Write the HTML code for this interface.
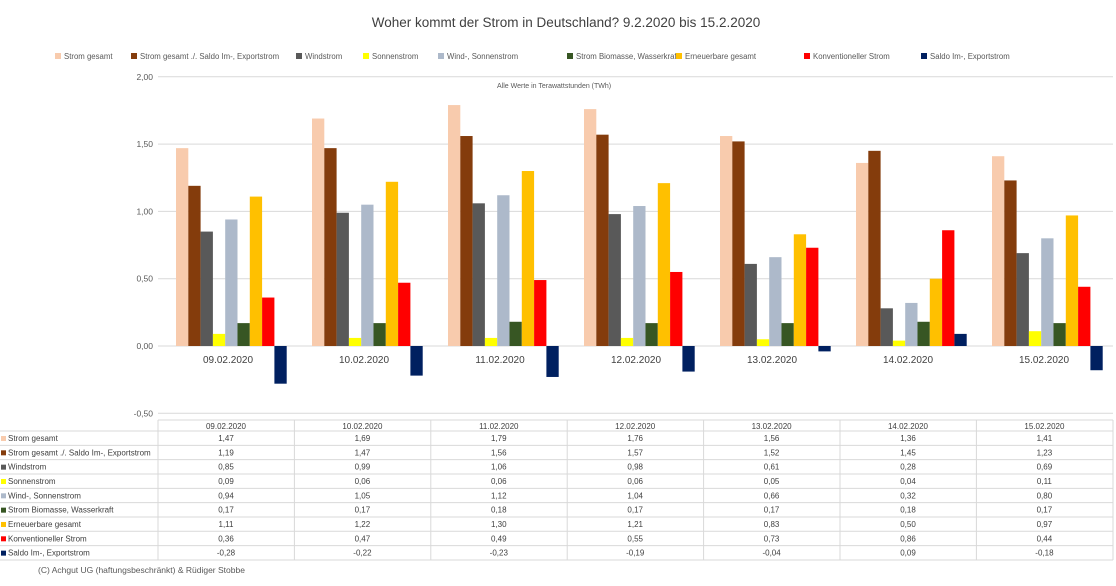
<!DOCTYPE html>
<html><head><meta charset="utf-8"><style>
body{margin:0;background:#fff;}
svg text{font-family:"Liberation Sans",sans-serif;}
</style></head><body>
<svg id="s" width="1116" height="581" xmlns="http://www.w3.org/2000/svg"></svg>
<script>
const s=document.getElementById('s');
let h='';
const cols=['#F8CBAD','#843C0C','#595959','#FFFF00','#ADB9CA','#375623','#FFC000','#FF0000','#002060'];
const names=['Strom gesamt','Strom gesamt ./. Saldo Im-, Exportstrom','Windstrom','Sonnenstrom','Wind-, Sonnenstrom','Strom Biomasse, Wasserkraft','Erneuerbare gesamt','Konventioneller Strom','Saldo Im-, Exportstrom'];
const dates=['09.02.2020','10.02.2020','11.02.2020','12.02.2020','13.02.2020','14.02.2020','15.02.2020'];
const data=[[1.47,1.69,1.79,1.76,1.56,1.36,1.41],[1.19,1.47,1.56,1.57,1.52,1.45,1.23],[0.85,0.99,1.06,0.98,0.61,0.28,0.69],[0.09,0.06,0.06,0.06,0.05,0.04,0.11],[0.94,1.05,1.12,1.04,0.66,0.32,0.80],[0.17,0.17,0.18,0.17,0.17,0.18,0.17],[1.11,1.22,1.30,1.21,0.83,0.50,0.97],[0.36,0.47,0.49,0.55,0.73,0.86,0.44],[-0.28,-0.22,-0.23,-0.19,-0.04,0.09,-0.18]];
const f=v=>v.toFixed(2).replace('.',',');
h+=`<text x="566" y="27" font-size="13.5" text-anchor="middle" fill="#404040">Woher kommt der Strom in Deutschland? 9.2.2020 bis 15.2.2020</text>`;
const lx=[55,131,296,363,438,567,676,804,921];
names.forEach((n,i)=>{h+=`<rect x="${lx[i]}" y="53" width="6" height="6" fill="${cols[i]}"/><text x="${lx[i]+9}" y="59" font-size="7.8" fill="#595959">${n}</text>`;});
const z=346,k=134.6;
[2,1.5,1,0.5,0,-0.5].forEach(v=>{const y=z-v*k;h+=`<line x1="158" x2="1113" y1="${y}" y2="${y}" stroke="#d9d9d9" stroke-width="1"/><text x="153" y="${y+3}" font-size="8.5" text-anchor="end" fill="#595959">${v<0?'-':''}${f(Math.abs(v))}</text>`;});
h+=`<text x="497" y="88" font-size="7" fill="#595959">Alle Werte in Terawattstunden (TWh)</text>`;
for(let g=0;g<7;g++){const gx=158+136*g;
 for(let i=0;i<9;i++){const v=data[i][g];const x=gx+18+i*12.3;const y=v>=0?z-v*k:z;h+=`<rect x="${x}" y="${y}" width="12.3" height="${Math.abs(v)*k}" fill="${cols[i]}"/>`;}
 h+=`<text x="${gx+70}" y="363" font-size="10" text-anchor="middle" fill="#404040">${dates[g]}</text>`;
}
const ty=[420,431];for(let r=1;r<=9;r++)ty.push(431+r*14.33);
ty.forEach((y,j)=>{h+=`<line x1="${j==0?158:0}" x2="1113" y1="${y}" y2="${y}" stroke="#d9d9d9"/>`;});
for(let c=0;c<=7;c++){const x=c==7?1113:158+136.4*c;h+=`<line x1="${x}" x2="${x}" y1="420" y2="560" stroke="#d9d9d9"/>`;}
dates.forEach((d,g)=>{h+=`<text x="${158+136.4*g+68}" y="429" font-size="8" text-anchor="middle" fill="#404040">${d}</text>`;});
names.forEach((n,i)=>{const y=431+i*14.33;h+=`<rect x="1" y="${y+5}" width="5" height="5" fill="${cols[i]}"/><text x="8" y="${y+10}" font-size="8" fill="#404040">${n}</text>`;
 for(let g=0;g<7;g++)h+=`<text x="${158+136.4*g+68}" y="${y+10}" font-size="8" text-anchor="middle" fill="#404040">${f(data[i][g])}</text>`;});
h+=`<text x="38" y="573" font-size="8.5" fill="#595959">(C) Achgut UG (haftungsbeschränkt) &amp; Rüdiger Stobbe</text>`;
s.innerHTML=h;
</script>
</body></html>
